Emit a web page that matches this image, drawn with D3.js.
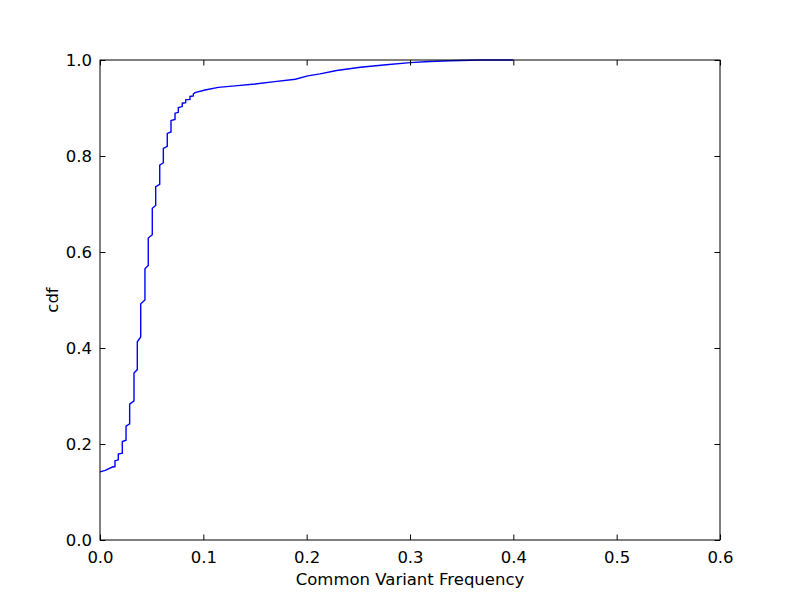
<!DOCTYPE html>
<html>
<head>
<meta charset="utf-8">
<script src="https://cdn.jsdelivr.net/npm/d3@7"></script>
<style>
  body { margin: 0; background: #fff; }
  text { font-family: "DejaVu Sans", sans-serif; }
</style>
</head>
<body>
<div class="canvas"></div>
<script>
// sorted frequencies and their cdf (repeated x = vertical jump)
const freq = [0, 0.005, 0.012, 0.0145, 0.0145, 0.0177, 0.0177, 0.0216, 0.0216, 0.0252, 0.0252,
  0.0287, 0.0287, 0.0329, 0.0329, 0.0361, 0.0361, 0.0394, 0.0394, 0.0435, 0.0435, 0.0467, 0.0467,
  0.0506, 0.0506, 0.0539, 0.0539, 0.0578, 0.0578, 0.0613, 0.0613, 0.0651, 0.0651, 0.0687, 0.0687,
  0.0726, 0.0726, 0.0758, 0.0758, 0.0796, 0.0796, 0.0829, 0.0829, 0.0871, 0.0871, 0.0903, 0.0903,
  0.0919, 0.1016, 0.1145, 0.1306, 0.150, 0.169, 0.189, 0.201, 0.213, 0.229, 0.252, 0.277,
  0.300, 0.319, 0.339, 0.368, 0.40];
const cdf = [0.142, 0.145, 0.152, 0.153, 0.165, 0.167, 0.179, 0.181, 0.205, 0.208, 0.237,
  0.242, 0.283, 0.290, 0.348, 0.355, 0.413, 0.423, 0.492, 0.500, 0.565, 0.572, 0.629,
  0.636, 0.691, 0.697, 0.736, 0.741, 0.781, 0.786, 0.816, 0.820, 0.847, 0.850, 0.874,
  0.876, 0.889, 0.891, 0.901, 0.903, 0.910, 0.911, 0.917, 0.918, 0.924, 0.925, 0.929,
  0.932, 0.9375, 0.943, 0.946, 0.950, 0.955, 0.960, 0.967, 0.971, 0.978, 0.985, 0.990,
  0.9945, 0.997, 0.9985, 1.0, 1.0];
const xTicks = [0, 0.1, 0.2, 0.3, 0.4, 0.5, 0.6];
const yTicks = [0, 0.2, 0.4, 0.6, 0.8, 1.0];

const margin = { top: 60, right: 80, bottom: 60, left: 100 };
const graphWidth = 800 - margin.left - margin.right;
const graphHeight = 600 - margin.top - margin.bottom;

const svg = d3.select(".canvas").append("svg")
  .attr("width", 800)
  .attr("height", 600);

const graph = svg.append("g")
  .attr("transform", `translate(${margin.left}, ${margin.top})`);

// scales
const x = d3.scaleLinear().domain([0, 0.6]).range([0, graphWidth]);
const y = d3.scaleLinear().domain([0, 1]).range([graphHeight, 0]);

const points = freq.map((f, i) => [f, cdf[i]]);

const line = d3.line()
  .x((d) => x(d[0]))
  .y((d) => y(d[1]));

graph.append("path")
  .datum(points)
  .attr("fill", "none")
  .attr("stroke", "#0000ff")
  .attr("stroke-width", 1.4)
  .attr("d", line);

// axes, ticks pointing inward on all sides
const fmt = d3.format(".1f");
const tick = 5.5;
const style = (g) => {
  g.select(".domain").remove();
  g.selectAll("line").attr("stroke", "#000").attr("stroke-width", 1);
  g.selectAll("text").attr("fill", "#000").style("font-size", "16.5px");
};

graph.append("g")
  .attr("transform", `translate(0,${graphHeight})`)
  .call(d3.axisBottom(x).tickValues(xTicks).tickFormat(fmt).tickSizeInner(-tick).tickSizeOuter(0).tickPadding(11))
  .call(style);
graph.append("g")
  .call(d3.axisTop(x).tickValues(xTicks).tickFormat("").tickSizeInner(-tick).tickSizeOuter(0))
  .call(style);
graph.append("g")
  .call(d3.axisLeft(y).tickValues(yTicks).tickFormat(fmt).tickSizeInner(-tick).tickSizeOuter(0).tickPadding(8))
  .call(style);
graph.append("g")
  .attr("transform", `translate(${graphWidth},0)`)
  .call(d3.axisRight(y).tickValues(yTicks).tickFormat("").tickSizeInner(-tick).tickSizeOuter(0))
  .call(style);

// frame
graph.append("rect")
  .attr("width", graphWidth)
  .attr("height", graphHeight)
  .attr("fill", "none")
  .attr("stroke", "#000")
  .attr("stroke-width", 1);

// axis labels
svg.append("text")
  .attr("x", margin.left + graphWidth / 2)
  .attr("y", 585)
  .attr("text-anchor", "middle")
  .style("font-size", "16.5px")
  .text("Common Variant Frequency");

svg.append("text")
  .attr("transform", `translate(58,${margin.top + graphHeight / 2}) rotate(-90)`)
  .attr("text-anchor", "middle")
  .style("font-size", "16.5px")
  .text("cdf");
</script>
</body>
</html>
